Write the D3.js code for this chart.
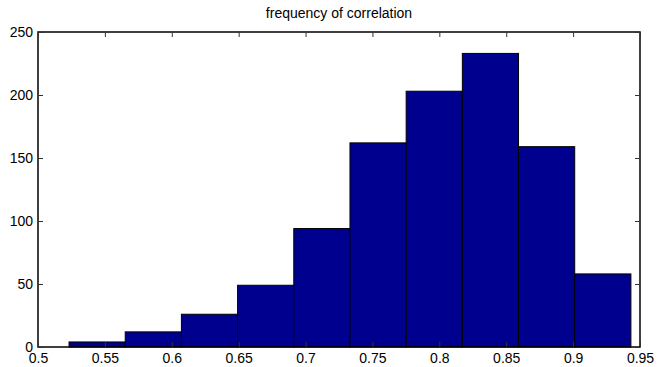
<!DOCTYPE html>
<html>
<head>
<meta charset="utf-8">
<script src="https://cdn.jsdelivr.net/npm/d3@7"></script>
<style>
  body { margin: 0; background: #fff; }
  svg text { font-family: "Liberation Sans", Arial, sans-serif; }
</style>
</head>
<body>
<script>
// histogram bins (left edges) and counts
let binStart = 0.5232;
let binWidth = 0.0420;
let counts = [4, 12, 26, 49, 94, 162, 203, 233, 159, 58];
let xTicks = [0.5, 0.55, 0.6, 0.65, 0.7, 0.75, 0.8, 0.85, 0.9, 0.95];
let yTicks = [0, 50, 100, 150, 200, 250];
let title = "frequency of correlation";

let w = 657, h = 367;
let padL = 38, padR = 640, padT = 32, padB = 347;

let svg = d3.select("body").append("svg")
  .attr("width", w)
  .attr("height", h);

let xScale = d3.scaleLinear().domain([0.5, 0.95]).range([padL, padR]);
let yScale = d3.scaleLinear().domain([0, 250]).range([padB, padT]);

let bins = counts.map((c, i) => ({ x0: binStart + i * binWidth, x1: binStart + (i + 1) * binWidth, n: c }));

svg.selectAll("rect.bar")
  .data(bins)
  .enter()
  .append("rect")
  .attr("class", "bar")
  .attr("x", d => xScale(d.x0))
  .attr("y", d => yScale(d.n))
  .attr("width", d => xScale(d.x1) - xScale(d.x0))
  .attr("height", d => yScale(0) - yScale(d.n))
  .attr("fill", "#00008f")
  .attr("stroke", "#000")
  .attr("stroke-width", 1);

// box
svg.append("rect")
  .attr("x", padL).attr("y", padT)
  .attr("width", padR - padL).attr("height", padB - padT)
  .attr("fill", "none").attr("stroke", "#000").attr("stroke-width", 1.5);

let fmt = d => d3.format("~g")(d);

let xAxis = d3.axisBottom(xScale).tickValues(xTicks).tickFormat(fmt).tickSizeInner(-5).tickSizeOuter(0).tickPadding(6);
let xAxisTop = d3.axisTop(xScale).tickValues(xTicks).tickFormat("").tickSizeInner(-5).tickSizeOuter(0);
let yAxis = d3.axisLeft(yScale).tickValues(yTicks).tickFormat(fmt).tickSizeInner(-5).tickSizeOuter(0).tickPadding(5);
let yAxisRight = d3.axisRight(yScale).tickValues(yTicks).tickFormat("").tickSizeInner(-5).tickSizeOuter(0);

function style(g) {
  g.select(".domain").remove();
  g.selectAll(".tick line").attr("stroke", "#333");
  g.selectAll(".tick text").attr("fill", "#000").style("font-size", "14px");
}

svg.append("g").attr("transform", "translate(0," + padB + ")").call(xAxis).call(style);
svg.append("g").attr("transform", "translate(0," + padT + ")").call(xAxisTop).call(style);
svg.append("g").attr("transform", "translate(" + padL + ",0)").call(yAxis).call(style);
svg.append("g").attr("transform", "translate(" + padR + ",0)").call(yAxisRight).call(style);

svg.append("text")
  .attr("x", (padL + padR) / 2)
  .attr("y", 18)
  .attr("text-anchor", "middle")
  .style("font-size", "14px")
  .attr("fill", "#000")
  .text(title);
</script>
</body>
</html>
